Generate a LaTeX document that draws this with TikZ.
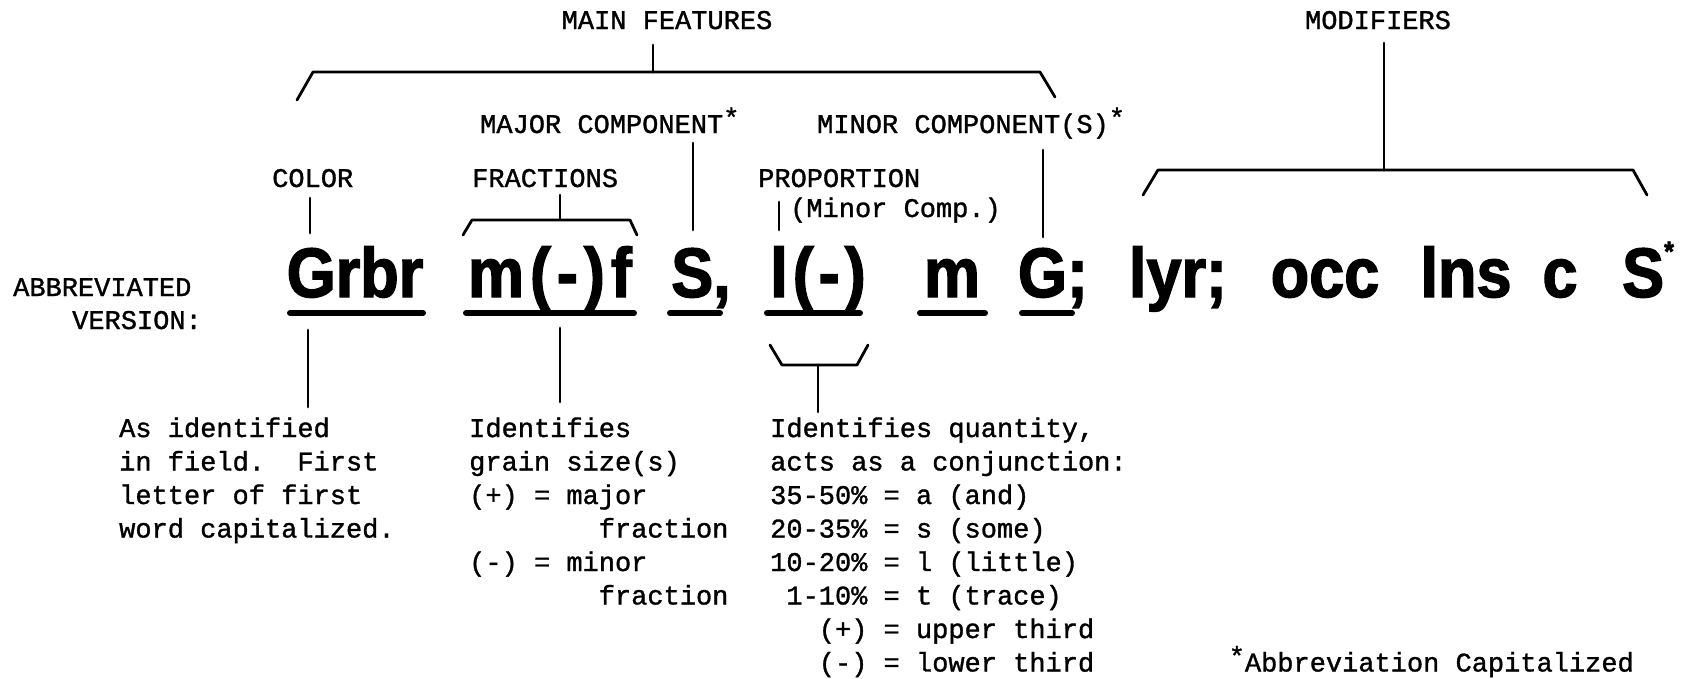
\documentclass[tikz,border=0pt]{standalone}
\usepackage{fontspec}
\newfontfamily\tw[FakeBold=1.2]{Liberation Mono}
\newfontfamily\bigf[FakeStretch=0.9,FakeBold=2]{Liberation Sans}
\newcommand\sstar{\raisebox{6pt}{*}}
\newcommand\kk{\kern6pt}
\tikzset{
  lab/.style={font=\tw\fontsize{27}{33.5}\selectfont, inner sep=0pt, anchor=base west},
  labc/.style={lab, anchor=base},
  big/.style={font=\bigf\bfseries\fontsize{70}{80}\selectfont, inner sep=0pt, anchor=base},
  ln/.style={line width=2.8pt, line cap=round, line join=round},
  ul/.style={line width=6pt, line cap=round}
}
\begin{document}
\begin{tikzpicture}[x=1pt,y=-1pt]
\useasboundingbox (0,0) rectangle (1690,678);
% --- top labels
\node[labc] (mainf) at (667,29) {MAIN FEATURES};
\node[labc] (modif) at (1378,29) {MODIFIERS};
\node[lab] (major) at (480,133) {MAJOR COMPONENT\sstar};
\node[lab] (minor) at (817,133) {MINOR COMPONENT(S)\sstar};
\node[lab] (color) at (272,187) {COLOR};
\node[lab] (fract) at (472,187) {FRACTIONS};
\node[lab] (propo) at (758,187) {PROPORTION};
\node[lab] (mcomp) at (790,217) {(Minor Comp.)};
\node[lab] (abbr) at (13,296) {ABBREVIATED};
\node[lab] (vers) at (72,329) {VERSION:};
% --- abbreviated string
\node[big] (w1) at (355,297) {Grbr};
\node[big] (w2) at (550,297) {m\kk(\kk-\kk)\kk f};
\node[big] (w3) at (701,297) {S,};
\node[big] (w4) at (818,297) {l\kern5pt(\kern5pt-\kern5pt)};
\node[big] (w5) at (952,297) {m};
\node[big] (w6) at (1053,297) {G;};
\node[big] (w7) at (1178,297) {lyr;};
\node[big] (w8) at (1325,297) {occ};
\node[big] (w9) at (1466,297) {lns};
\node[big] (w10) at (1560,297) {c};
\node[big] (w11) at (1648,297) {S\raisebox{36pt}{\fontsize{28}{28}\selectfont *}};
% underlines
\draw[ul] (290,313) -- (423,313);
\draw[ul] (466,313) -- (634,313);
\draw[ul] (670,313) -- (720,313);
\draw[ul] (767,313) -- (860,313);
\draw[ul] (920,313) -- (985,313);
\draw[ul] (1022,313) -- (1072,313);
% --- brackets and connectors (top)
\coordinate (mfL) at (297,100); \coordinate (mfA) at (313,72);
\coordinate (mfB) at (1040,72); \coordinate (mfR) at (1055,97);
\coordinate (mfT) at (653,45); \coordinate (mfM) at (653,72);
\draw[ln] (mfL) -- (mfA) -- (mfB) -- (mfR);
\draw[ln] (mfT) -- (mfM);
\coordinate (moL) at (1143,195); \coordinate (moA) at (1158,170);
\coordinate (moB) at (1633,170); \coordinate (moR) at (1647,195);
\coordinate (moT) at (1384,43); \coordinate (moM) at (1384,170);
\draw[ln] (moL) -- (moA) -- (moB) -- (moR);
\draw[ln] (moT) -- (moM);
\coordinate (coT) at (310,198); \coordinate (coB) at (310,233);
\draw[ln] (coT) -- (coB);
\coordinate (frL) at (463,235); \coordinate (frA) at (472,220);
\coordinate (frB) at (630,220); \coordinate (frR) at (637,235);
\coordinate (frT) at (560,195); \coordinate (frM) at (560,220);
\draw[ln] (frL) -- (frA) -- (frB) -- (frR);
\draw[ln] (frT) -- (frM);
\coordinate (maT) at (693,143); \coordinate (maB) at (693,230);
\draw[ln] (maT) -- (maB);
\coordinate (miT) at (1043,150); \coordinate (miB) at (1043,237);
\draw[ln] (miT) -- (miB);
\coordinate (prT) at (779,202); \coordinate (prB) at (779,230);
\draw[ln] (prT) -- (prB);
% --- connectors (bottom)
\coordinate (g1) at (308,330); \coordinate (g2) at (308,407);
\draw[ln] (g1) -- (g2);
\coordinate (f1) at (560,328); \coordinate (f2) at (560,402);
\draw[ln] (f1) -- (f2);
\coordinate (lbL) at (770,345); \coordinate (lbA) at (782,365);
\coordinate (lbB) at (857,365); \coordinate (lbR) at (868,345);
\coordinate (lbM) at (818,365); \coordinate (lbD) at (818,412);
\draw[ln] (lbL) -- (lbA) -- (lbB) -- (lbR);
\draw[ln] (lbM) -- (lbD);
% --- explanation blocks
\foreach \t [count=\i] in {As identified, in field.~~First, letter of first, word capitalized.}
  \node[lab] (a\i) at (119,{437+33.5*(\i-1)}) {\t};
\foreach \t [count=\i] in {Identifies, grain size(s), (+) = major, \hspace*{4.8em}fraction, (-) = minor, \hspace*{4.8em}fraction}
  \node[lab] (b\i) at (469,{437+33.5*(\i-1)}) {\t};
\foreach \t [count=\i] in {{Identifies quantity,}, acts as a conjunction:, 35-50\% = a (and), 20-35\% = s (some), 10-20\% = l (little), \hspace*{0.6em}1-10\% = t (trace), \hspace*{1.8em}(+) = upper third, \hspace*{1.8em}(-) = lower third}
  \node[lab] (c\i) at (770,{437+33.5*(\i-1)}) {\t};
\node[lab, anchor=base east] (note) at (1634,671.5) {\sstar Abbreviation Capitalized};
\end{tikzpicture}
\end{document}
